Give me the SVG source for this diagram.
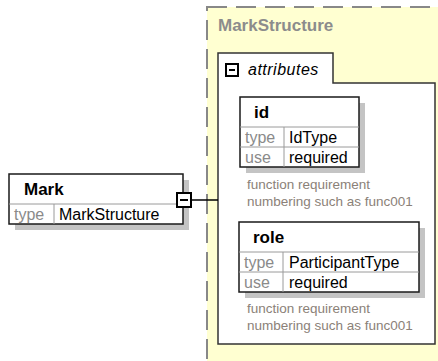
<svg xmlns="http://www.w3.org/2000/svg" width="438" height="361" viewBox="0 0 438 361">
<style>
.box{fill:#fff;stroke:#1a1a1a;stroke-width:1.5}
.shadow{fill:#c4c4c4}
.sep{stroke:#9a9a9a;stroke-width:1}
.hdr{font-family:"Liberation Sans",Arial,sans-serif;font-weight:bold;font-size:17px;fill:#000}
.lbl{font-family:"Liberation Sans",Arial,sans-serif;font-size:16px;fill:#8a8a8a}
.val{font-family:"Liberation Sans",Arial,sans-serif;font-size:16px;fill:#000}
.doc{font-family:"Liberation Sans",Arial,sans-serif;font-size:13.5px;fill:#8b8178}
.title{font-family:"Liberation Sans",Arial,sans-serif;font-weight:bold;font-size:17px;fill:#8c8c8c}
.ital{font-family:"Liberation Sans",Arial,sans-serif;font-style:italic;font-size:16px;letter-spacing:0.5px;fill:#000}
.icon{fill:#fff;stroke:#000;stroke-width:2}
.minus{stroke:#000;stroke-width:2}
.conn{stroke:#000;stroke-width:1.5;fill:none}
</style>
<g id="MarkStructure">
<rect x="207" y="7" width="260" height="380" fill="#ffffd1" stroke="#888" stroke-width="2" stroke-dasharray="20 9"/>
<text class="title" x="218" y="31">MarkStructure</text>
</g>
<g id="attributes">
<path d="M218 53 H333 V83 H435 V344 H218 Z" fill="#fff" stroke="#333" stroke-width="1.5"/>
<rect class="icon" x="226" y="64" width="12" height="12"/>
<line class="minus" x1="229" y1="70" x2="235" y2="70"/>
<text class="ital" x="248" y="75">attributes</text>
</g>
<g id="id">
<rect class="shadow" x="246" y="103" width="119" height="70"/>
<rect class="box" x="240" y="97" width="119" height="70"/>
<line class="sep" x1="240" y1="127" x2="359" y2="127"/>
<line class="sep" x1="240" y1="147" x2="359" y2="147"/>
<line class="sep" x1="284" y1="127" x2="284" y2="167"/>
<text class="hdr" x="254" y="118">id</text>
<text class="lbl" x="245" y="143">type</text>
<text class="val" x="289" y="143">IdType</text>
<text class="lbl" x="245" y="163">use</text>
<text class="val" x="289" y="163">required</text>
<text class="doc" x="247" y="189">function requirement</text>
<text class="doc" x="247" y="206">numbering such as func001</text>
</g>
<g id="role">
<rect class="shadow" x="245" y="228" width="180" height="70"/>
<rect class="box" x="239" y="222" width="180" height="70"/>
<line class="sep" x1="239" y1="252" x2="419" y2="252"/>
<line class="sep" x1="239" y1="272" x2="419" y2="272"/>
<line class="sep" x1="283" y1="252" x2="283" y2="292"/>
<text class="hdr" x="253" y="243">role</text>
<text class="lbl" x="244" y="268">type</text>
<text class="val" x="289" y="268">ParticipantType</text>
<text class="lbl" x="244" y="288">use</text>
<text class="val" x="289" y="288">required</text>
<text class="doc" x="247" y="313">function requirement</text>
<text class="doc" x="247" y="330">numbering such as func001</text>
</g>
<g id="connectors">
<line class="conn" x1="192" y1="200" x2="218" y2="200"/>
</g>
<g id="Mark">
<rect class="shadow" x="15" y="180" width="174" height="50"/>
<rect class="box" x="9" y="174" width="174" height="50"/>
<line class="sep" x1="9" y1="204" x2="183" y2="204"/>
<line class="sep" x1="54" y1="204" x2="54" y2="224"/>
<text class="hdr" x="24" y="195">Mark</text>
<text class="lbl" x="14" y="220">type</text>
<text class="val" x="59" y="220">MarkStructure</text>
<rect class="icon" x="177" y="193" width="14" height="14"/>
<line class="minus" x1="180" y1="200" x2="188" y2="200"/>
</g>
</svg>
